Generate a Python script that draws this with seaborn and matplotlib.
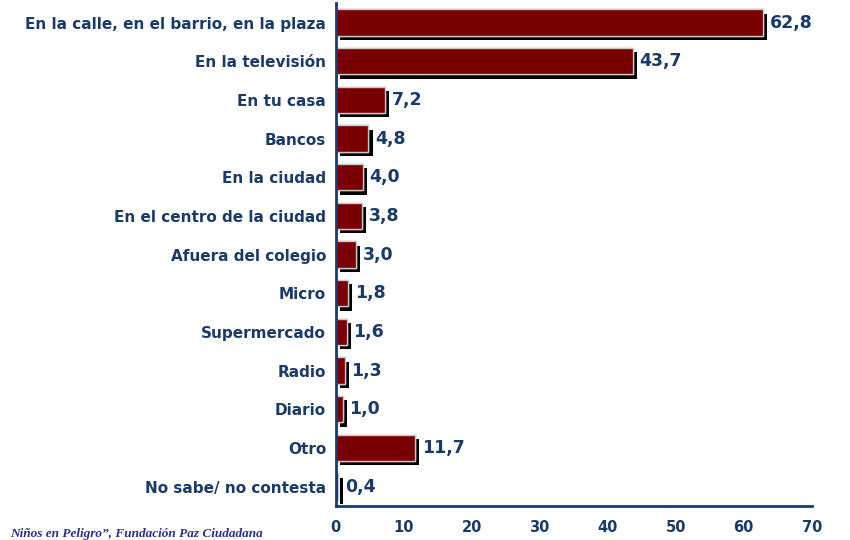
import matplotlib
matplotlib.use("Agg")
import matplotlib.pyplot as plt
import matplotlib.patheffects as pe
import seaborn as sns
import pandas as pd
import numpy as np

categories = [
    "En la calle, en el barrio, en la plaza",
    "En la televisión",
    "En tu casa",
    "Bancos",
    "En la ciudad",
    "En el centro de la ciudad",
    "Afuera del colegio",
    "Micro",
    "Supermercado",
    "Radio",
    "Diario",
    "Otro",
    "No sabe/ no contesta",
]
values = [62.8, 43.7, 7.2, 4.8, 4.0, 3.8, 3.0, 1.8, 1.6, 1.3, 1.0, 11.7, 0.4]
x_ticks = [0, 10, 20, 30, 40, 50, 60, 70]
footnote = "Niños en Peligro\u201d, Fundación Paz Ciudadana"

NAVY = "#1b3a68"
BAR = "#780000"

df = pd.DataFrame({"lugar": categories, "pct": values})

sns.set_style("white")
plt.rcParams["font.family"] = ["DejaVu Sans"]

fig = plt.figure(figsize=(8.5, 5.4), dpi=100)
ax = fig.add_axes([0.395, 0.063, 0.56, 0.931])

sns.barplot(data=df, x="pct", y="lugar", color=BAR, width=0.68,
            saturation=1, edgecolor="#c8c8c8", linewidth=1, ax=ax)

# drop shadow like the original office chart
for p in ax.patches:
    p.set_path_effects([pe.withSimplePatchShadow(offset=(3, -3),
                                                 shadow_rgbFace="black",
                                                 alpha=1.0),
                        pe.Normal()])

for i, v in enumerate(values):
    ax.text(v + 1.0, i, f"{v:.1f}".replace(".", ","), va="center", ha="left",
            fontsize=12.5, fontweight="bold", color=NAVY)

ax.set_xlim(0, 70)
ax.set_ylim(len(categories) - 0.5, -0.5)
ax.set_xticks(x_ticks)
ax.set_xticklabels([str(t) for t in x_ticks])
ax.set_xlabel("")
ax.set_ylabel("")

ax.set_yticks(np.arange(len(categories)) + 0.5, minor=True)
ax.tick_params(axis="y", which="major", length=0, pad=7,
               labelsize=11, labelcolor=NAVY)
ax.tick_params(axis="y", which="minor", length=4, width=1.5, color=NAVY)
ax.tick_params(axis="x", which="major", length=5, width=1.5, color=NAVY,
               direction="out", pad=5, labelsize=10.5, labelcolor=NAVY)
for lab in ax.get_yticklabels() + ax.get_xticklabels():
    lab.set_fontweight("bold")

sns.despine(ax=ax)
for s in ["left", "bottom"]:
    ax.spines[s].set_color(NAVY)
    ax.spines[s].set_linewidth(2)

fig.text(0.012, 0.006, footnote, fontsize=9.5, fontstyle="italic",
         fontweight="bold", family="Liberation Serif", color="#2b2f86",
         ha="left", va="baseline")

fig.savefig("out.png", dpi=100)
